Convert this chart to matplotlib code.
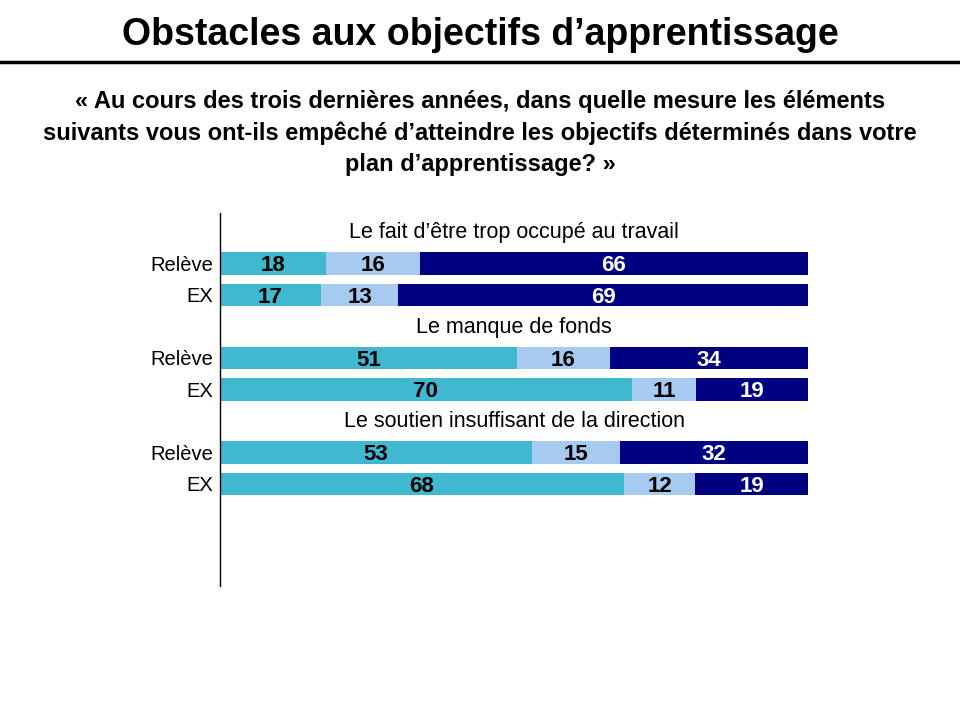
import numpy as np
import matplotlib.pyplot as plt

plt.rcParams["font.family"] = ["Liberation Sans", "DejaVu Sans"]

# Data
categories = ["Le fait d\u2019être trop occupé au travail",
              "Le manque de fonds",
              "Le soutien insuffisant de la direction"]
groups = ["Relève", "EX"]
part1 = [[18, 17], [51, 70], [53, 68]]
part2 = [[16, 13], [16, 11], [15, 12]]
part3 = [[66, 69], [34, 19], [32, 19]]
colors = ["#40B8D0", "#A6CAF0", "#000080"]
text_colors = ["black", "black", "white"]

fig = plt.figure(figsize=(9.6, 7.2), dpi=100)

# Title and rule
fig.text(0.5, 1 - 35 / 720, "Obstacles aux objectifs d\u2019apprentissage",
         ha="center", va="center", fontsize=27, fontweight="bold")
fig.add_artist(plt.Line2D([0, 1], [1 - 62 / 720] * 2, color="black", lw=2.5))
fig.text(0.5, 1 - 133 / 720,
         "« Au cours des trois dernières années, dans quelle mesure les éléments\n"
         "suivants vous ont-ils empêché d\u2019atteindre les objectifs déterminés dans votre\n"
         "plan d\u2019apprentissage? »",
         ha="center", va="center", fontsize=17, fontweight="bold", linespacing=1.45)

# Axes: x from 220 to 808 px, y from 213 to 586 px
ax = fig.add_axes([220 / 960, 1 - 586 / 720, 588 / 960, 373 / 720])
ax.set_xlim(0, 100)
ax.set_ylim(11.24, -0.6)

yticks, ylabels = [], []
for g, cat in enumerate(categories):
    ax.text(50, g * 3 - 0.05, cat, ha="center", va="center_baseline", fontsize=15.5)
    for r, grp in enumerate(groups):
        y = g * 3 + r + 1
        vals = np.array([part1[g][r], part2[g][r], part3[g][r]], dtype=float)
        widths = vals / vals.sum() * 100
        left = 0
        for k in range(3):
            ax.barh(y, widths[k], left=left, height=0.72, color=colors[k])
            ax.text(left + widths[k] / 2, y, f"{int(vals[k])}", ha="center",
                    va="center_baseline", fontsize=16, fontweight="bold",
                    color=text_colors[k])
            left += widths[k]
        yticks.append(y)
        ylabels.append(grp)

ax.set_yticks(yticks)
ax.set_yticklabels(ylabels, fontsize=14.5)
ax.tick_params(axis="y", length=0, pad=5)
ax.set_xticks([])
for s in ["top", "right", "bottom"]:
    ax.spines[s].set_visible(False)
ax.spines["left"].set_linewidth(1)

fig.savefig("out.png", dpi=100)
